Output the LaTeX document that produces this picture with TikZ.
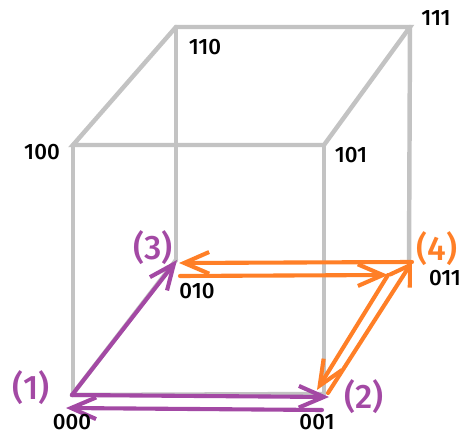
\documentclass[tikz,border=0pt]{standalone}
\usepackage{fontspec}
\setmainfont{Fira Sans}
\newfontfamily\bitfont[Numbers=Lining]{Fira Sans Medium}
\newfontfamily\stepfont[Numbers=Lining]{Fira Sans Medium}
\usetikzlibrary{arrows.meta}
\definecolor{edge}{HTML}{C3C3C3}
\definecolor{pur}{HTML}{A349A4}
\definecolor{org}{HTML}{FF7F27}
\tikzset{
  cubeedge/.style={edge,line width=3.8pt,line cap=round},
  purarrow/.style={pur,line width=3.5pt,line cap=round,-{Straight Barb[length=7.5mm,width=6.5mm]}},
  orgarrow/.style={org,line width=3.5pt,line cap=round,-{Straight Barb[length=7.5mm,width=6.5mm]}},
  bitlabel/.style={black,font=\bitfont\fontsize{19}{21}\selectfont},
  purlabel/.style={pur,font=\stepfont\fontsize{29}{32}\selectfont},
  orglabel/.style={org,font=\stepfont\fontsize{29}{32}\selectfont},
}
\begin{document}
\begin{tikzpicture}

\useasboundingbox (0,0) rectangle (13.98,13.02);

% ---------------------------------------------------------------- cube corners
\coordinate (c000) at (2.19,1.20);
\coordinate (c001) at (9.72,1.20);
\coordinate (c010) at (5.28,5.22);
\coordinate (c011) at (12.27,5.16);
\coordinate (c100) at (2.19,8.67);
\coordinate (c101) at (9.72,8.67);
\coordinate (c110) at (5.28,12.21);
\coordinate (c111) at (12.30,12.21);

% ---------------------------------------------------------------- arrow ends
\coordinate (start1) at (2.16,1.17);
\coordinate (tip2) at (9.87,1.11);
\coordinate (start2) at (9.66,0.72);
\coordinate (tip1) at (1.98,0.78);
\coordinate (tip3) at (5.31,5.22);
\coordinate (start4) at (12.36,5.16);
\coordinate (tip30) at (5.37,5.13);
\coordinate (start3) at (5.40,4.74);
\coordinate (mid4) at (11.64,4.77);
\coordinate (start20) at (9.84,1.23);
\coordinate (mid2) at (9.51,1.32);

% ---------------------------------------------------------------- cube
\draw[cubeedge] (c000) -- (c100);
\draw[cubeedge] (c010) -- (c110);
\draw[cubeedge] (c001) -- (c101);
\draw[cubeedge] (c011) -- (c111);
\draw[cubeedge] (c100) -- (c101) -- (c111) -- (c110) -- cycle;
\draw[cubeedge] (start1) -- (c001);
\draw[cubeedge] (start1) -- (c010);

% ---------------------------------------------------------------- purple moves
\draw[purarrow] (start1) -- (tip2);
\draw[purarrow] (start2) -- (tip1);
\draw[purarrow] (start1) -- (tip3);

% ---------------------------------------------------------------- orange moves
\draw[orgarrow] (start4) -- (tip30);
\draw[orgarrow] (start3) -- (mid4);
\draw[orgarrow,-{Straight Barb[length=5.7mm,width=7.2mm]}] (start20) -- (start4);
\draw[orgarrow] (mid4) -- (mid2);

% ---------------------------------------------------------------- labels
\node[bitlabel] (n000) at (2.16,0.36) {000};
\node[bitlabel] (n001) at (9.51,0.36) {001};
\node[bitlabel] (n010) at (5.91,4.29) {010};
\node[bitlabel] (n011) at (13.35,4.68) {011};
\node[bitlabel] (n100) at (1.26,8.46) {100};
\node[bitlabel] (n101) at (10.53,8.37) {101};
\node[bitlabel] (n110) at (6.15,11.61) {110};
\node[bitlabel] (n111) at (13.08,12.48) {111};
\node[purlabel] (step1) at (0.93,1.38) {(1)};
\node[purlabel] (step2) at (10.92,1.11) {(2)};
\node[purlabel] (step3) at (4.59,5.58) {(3)};
\node[orglabel] (step4) at (13.11,5.55) {(4)};

\end{tikzpicture}
\end{document}
